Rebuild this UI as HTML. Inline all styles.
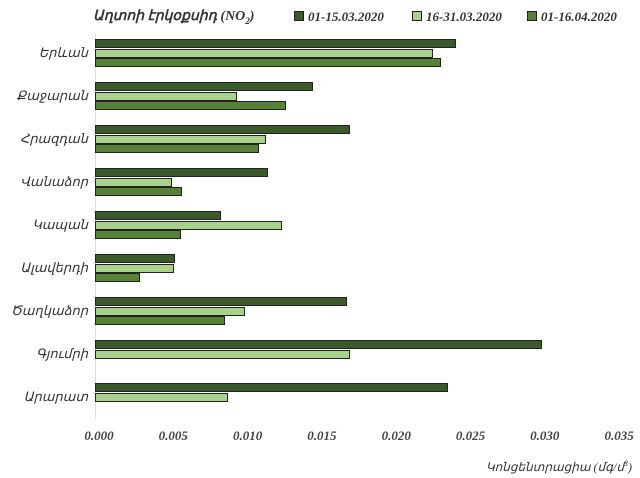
<!DOCTYPE html>
<html><head><meta charset="utf-8"><style>
body{margin:0;background:#fff;width:640px;height:478px;overflow:hidden;position:relative;font-family:"Liberation Serif",serif;font-style:italic;color:#333}
.b{position:absolute;height:9px;border:1px solid #222;box-sizing:border-box;left:95px}
.d{background:#3b5a2c}.l{background:#a9d18e}.m{background:#568236}
.c{position:absolute;right:552px;font-size:13px;transform:translateY(-50%);white-space:nowrap}
.t{position:absolute;top:428px;font-size:13px;font-weight:bold;transform:translateX(-50%);color:#444}
.lg{position:absolute;top:9px;font-size:13px;font-weight:bold;color:#333}
.sq{display:inline-block;width:8px;height:8px;border:1px solid #222;margin-right:4px}
</style></head><body>
<div style="position:absolute;left:93px;top:8px;font-size:14px;font-weight:bold">Աղտոի էրկօքսիդ (NO<sub style="font-size:9px">2</sub>)</div>
<div class="lg" style="left:294px"><span class="sq d"></span>01-15.03.2020</div>
<div class="lg" style="left:412px"><span class="sq l"></span>16-31.03.2020</div>
<div class="lg" style="left:527px"><span class="sq m"></span>01-16.04.2020</div>
<div style="position:absolute;left:95px;top:34px;width:1px;height:385px;background:#ddd"></div>
<div id="bars"></div>
<script>
var names=["Երևան","Քաջարան","Հրազդան","Վանաձոր","Կապան","Ալավերդի","Ծաղկաձոր","Գյումրի","Արարատ"];
var v=[[456,433,441],[313,237,286],[350,266,259],[268,172,182],[221,282,181],[175,174,140],[347,245,225],[542,350,0],[448,228,0]];
var cls=["d","l","m"],h="";
for(var i=0;i<9;i++){var c=53+i*43;
h+='<div class="c" style="top:'+c+'px">'+names[i]+'</div>';
for(var j=0;j<3;j++){if(!v[i][j])continue;h+='<div class="b '+cls[j]+'" style="top:'+(c-14+j*9.5)+'px;width:'+(v[i][j]-95)+'px"></div>';}}
var ts=["0.000","0.005","0.010","0.015","0.020","0.025","0.030","0.035"];
for(var k=0;k<8;k++)h+='<div class="t" style="left:'+(99+k*74.3)+'px">'+ts[k]+'</div>';
document.getElementById("bars").innerHTML=h;
</script>
<div style="position:absolute;right:8px;top:459px;font-size:12px;white-space:nowrap">Կոնցենտրացիա (մգ/մ<sup style="font-size:8px">3</sup>)</div>
</body></html>
